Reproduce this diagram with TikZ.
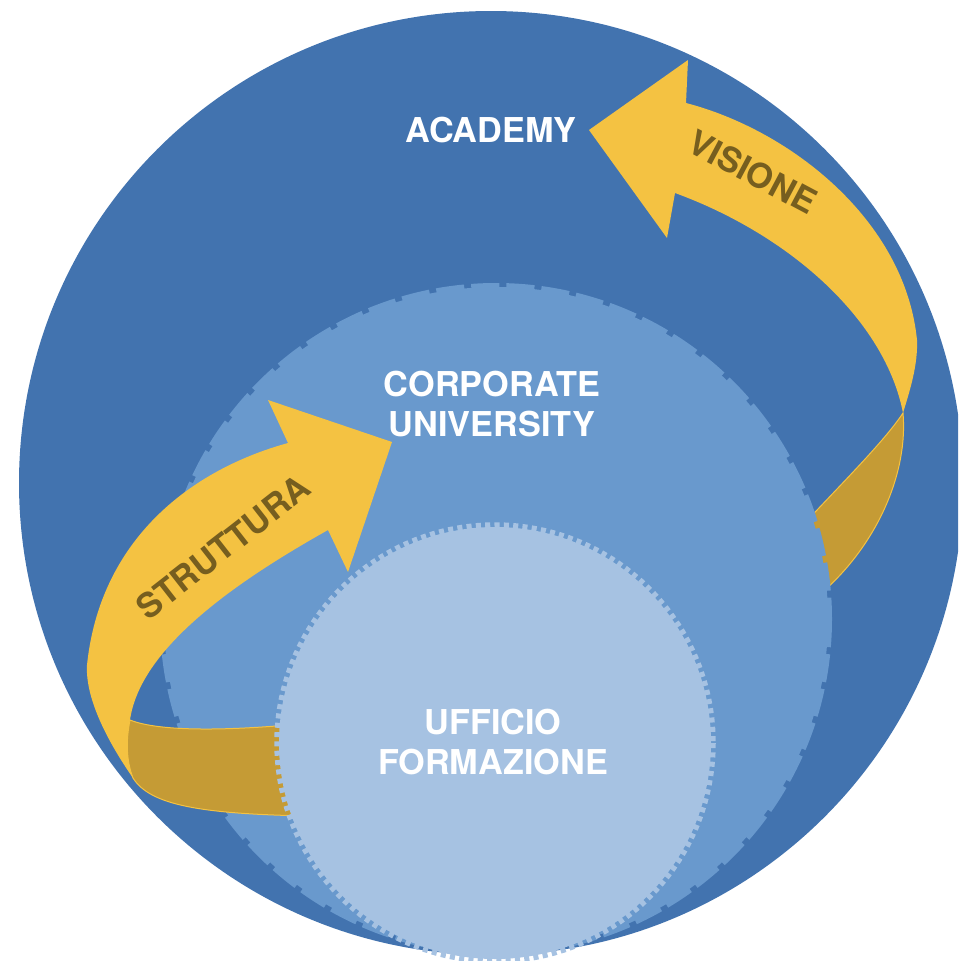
\documentclass[tikz,border=0pt]{standalone}
\usepackage{fontspec}
\setmainfont{TeX Gyre Heros}
\usetikzlibrary{positioning}
\definecolor{blue1}{RGB}{66,115,175}
\definecolor{blue2}{RGB}{105,153,205}
\definecolor{blue3}{RGB}{166,194,226}
\definecolor{yellow1}{RGB}{244,194,66}
\definecolor{gold1}{RGB}{197,155,53}
\definecolor{brown1}{RGB}{118,94,31}

\begin{document}
\begin{tikzpicture}[x=0.2mm, y=-0.2mm,
    level/.style={font=\fontsize{19.5}{22.5}\selectfont\bfseries, text=white, align=center},
    arrowlabel/.style={font=\fontsize{19.5}{22}\selectfont\bfseries, text=brown1},
    front/.style={fill=yellow1, draw=none},
    back/.style={fill=gold1, draw=yellow1, line width=0.2mm},
    teeth/.style={line width=#1}
]
        \clip (0,0) rectangle (958,961);

        % academy
        \fill[blue1] (491,483) circle[radius=472];

        % ribbon VISIONE
        \path[back] (903,413) .. controls (908,470) and (880,540) .. (825,590) -- (780,590) -- (800,528) .. controls (850,475) and (885,440) .. (903,413) -- cycle;
        \path[front] (589,130) -- (688,60) -- (686,103) .. controls (790,130) and (905,220) .. (917,340) .. controls (918,365) and (910,390) .. (903,413) .. controls (885,320) and (790,235) .. (675,193) -- (667,238) -- cycle;

        % corporate university
        \fill[blue2] (496,619) circle[radius=332];
        \draw[blue2, teeth=1.6mm, dash pattern=on 5.6mm off 1.4mm] (496,619) circle[radius=332];

        % ribbon STRUTTURA, back part
        \path[back] (130,720) .. controls (160,732) and (230,731) .. (310,723) -- (310,816) .. controls (200,814) and (150,805) .. (133,778) .. controls (126,760) and (126,740) .. (130,720) -- cycle;

        % ufficio formazione
        \fill[blue3] (495,743) circle[radius=216];
        \draw[blue3, teeth=1.9mm, dash pattern=on 1mm off 0.85mm] (495,743) circle[radius=216];

        \path[front] (392,442) -- (268,400) -- (288,443) .. controls (190,470) and (100,540) .. (87,665) .. controls (85,700) and (110,745) .. (133,778) .. controls (126,760) and (126,740) .. (130,720) .. controls (140,650) and (230,585) .. (328,530) -- (348,572) -- cycle;

        \node[level, name=academy] at (491,130) {ACADEMY};
        \node[level, name=corporate] at (492,404) {CORPORATE\\UNIVERSITY};
        \node[level, name=ufficio] at (493,742) {UFFICIO\\FORMAZIONE};

        \node[arrowlabel, rotate=-28, name=visione] at (753,172) {VISIONE};
        \node[arrowlabel, rotate=38, name=struttura] at (223,547) {STRUTTURA};

\end{tikzpicture}
\end{document}
